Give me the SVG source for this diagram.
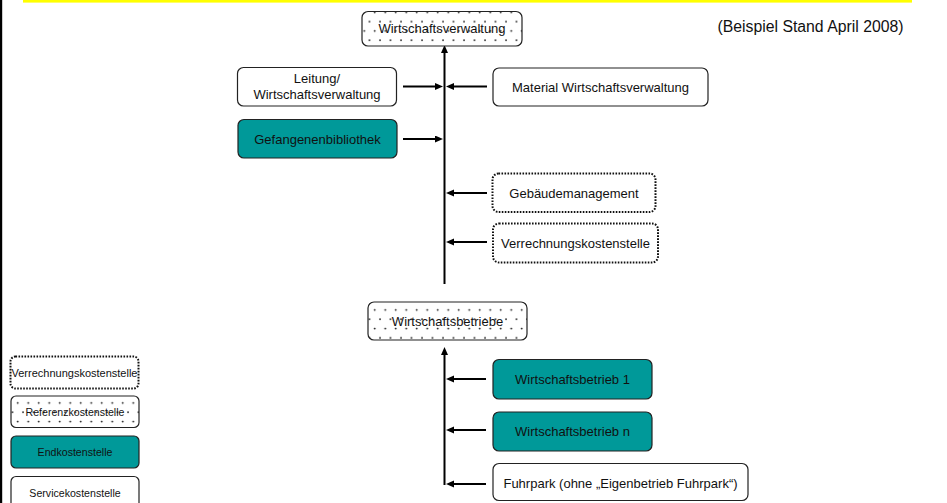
<svg xmlns="http://www.w3.org/2000/svg" width="947" height="503" viewBox="0 0 947 503">
<style>
text{font-family:"Liberation Sans",Arial,sans-serif;font-size:13px;fill:#111;text-anchor:middle}
.legend text{font-size:10.6px}
.box{fill:#fff;stroke:#222;stroke-width:1.2}
.end{fill:#009999;stroke:#222;stroke-width:1.2}
.ref{fill:url(#dots);stroke:#222;stroke-width:1.2}
.ver{fill:#fff;stroke:#111;stroke-width:2;stroke-dasharray:1.6 1.4}
.conn line{stroke:#000;stroke-width:2;fill:none}
.arr{marker-end:url(#ah)}
</style>
<defs>
<pattern id="dots" patternUnits="userSpaceOnUse" width="10.5" height="18.6">
<rect width="10.5" height="18.6" fill="#fff"/>
<circle cx="2" cy="3" r="0.9" fill="#111"/>
<circle cx="7.25" cy="12.3" r="0.9" fill="#111"/>
</pattern>
<marker id="ah" markerUnits="userSpaceOnUse" markerWidth="10" markerHeight="8" refX="4" refY="3.5" orient="auto" viewBox="0 0 10 8">
<path d="M0,0 L8,3.5 L0,7 z" fill="#000"/>
</marker>
</defs>
<rect x="0" y="0" width="947" height="503" fill="#fff"/>
<rect x="0" y="0" width="2.2" height="503" fill="#000"/>
<rect x="23" y="0" width="889" height="2.6" fill="#ffff00"/>

<g id="connectors" class="conn">
<line x1="444.5" y1="284" x2="444.5" y2="49" class="arr"/>
<line x1="403" y1="86.5" x2="439" y2="86.5" class="arr"/>
<line x1="487" y1="86.5" x2="450" y2="86.5" class="arr"/>
<line x1="403" y1="139" x2="439" y2="139" class="arr"/>
<line x1="487" y1="193" x2="450" y2="193" class="arr"/>
<line x1="487" y1="242" x2="450" y2="242" class="arr"/>
<line x1="444.5" y1="485" x2="444.5" y2="351" class="arr"/>
<line x1="486" y1="379" x2="450" y2="379" class="arr"/>
<line x1="486" y1="430" x2="450" y2="430" class="arr"/>
<line x1="486" y1="484" x2="450" y2="484" class="arr"/>
</g>

<g id="n_wirtschaftsverwaltung">
<rect class="ref" x="362" y="11.5" width="160" height="34.5" rx="6"/>
<text x="442" y="33">Wirtschaftsverwaltung</text>
</g>
<g id="n_leitung">
<rect class="box" x="237.5" y="67.5" width="159" height="38.5" rx="6"/>
<text x="317" y="83">Leitung/</text>
<text x="317" y="98.5">Wirtschaftsverwaltung</text>
</g>
<g id="n_material">
<rect class="box" x="493" y="68" width="215" height="38" rx="6"/>
<text x="600.5" y="91.5">Material Wirtschaftsverwaltung</text>
</g>
<g id="n_gefangenenbibliothek">
<rect class="end" x="238" y="119.5" width="159" height="38.5" rx="6"/>
<text x="317.5" y="143.5">Gefangenenbibliothek</text>
</g>
<g id="n_gebaeudemanagement">
<rect class="ver" x="492.5" y="173.5" width="163" height="38.5" rx="6"/>
<text x="574" y="197.5">Gebäudemanagement</text>
</g>
<g id="n_verrechnungskostenstelle">
<rect class="ver" x="493" y="223.5" width="165" height="39" rx="6"/>
<text x="575.5" y="247.5">Verrechnungskostenstelle</text>
</g>
<g id="n_wirtschaftsbetriebe">
<rect class="ref" x="368" y="302" width="159" height="38" rx="6"/>
<text x="447.5" y="325.5">Wirtschaftsbetriebe</text>
</g>
<g id="n_wirtschaftsbetrieb1">
<rect class="end" x="493" y="359.5" width="159" height="39.5" rx="6"/>
<text x="572.5" y="384">Wirtschaftsbetrieb 1</text>
</g>
<g id="n_wirtschaftsbetriebn">
<rect class="end" x="493" y="412" width="159" height="39" rx="6"/>
<text x="572.5" y="436">Wirtschaftsbetrieb n</text>
</g>
<g id="n_fuhrpark">
<rect class="box" x="493" y="463.5" width="255" height="37" rx="6"/>
<text x="620.5" y="488">Fuhrpark (ohne „Eigenbetrieb Fuhrpark“)</text>
</g>

<g id="n_stand">
<text x="810.5" y="32" style="font-size:15.8px">(Beispiel Stand April 2008)</text>
</g>

<g id="legend" class="legend">
<g id="l_verrechnung">
<rect class="ver" x="10.5" y="356.5" width="128" height="32" rx="5"/>
<text x="74.5" y="376.5" style="font-size:11px">Verrechnungskostenstelle</text>
</g>
<g id="l_referenz">
<rect class="ref" x="11" y="396" width="128" height="31.5" rx="5"/>
<text x="75" y="415.5">Referenzkostenstelle</text>
</g>
<g id="l_end">
<rect class="end" x="11" y="436" width="128" height="32" rx="5"/>
<text x="75" y="456">Endkostenstelle</text>
</g>
<g id="l_service">
<rect class="box" x="11" y="476.5" width="128" height="32" rx="5"/>
<text x="75" y="496.5">Servicekostenstelle</text>
</g>
</g>
</svg>
